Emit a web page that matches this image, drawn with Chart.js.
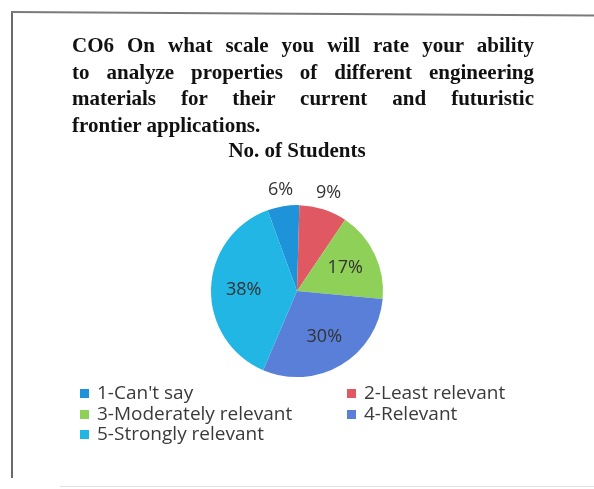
<!DOCTYPE html>
<html>
<head>
<meta charset="utf-8">
<script src="https://cdn.jsdelivr.net/npm/chart.js@4"></script>
<style>
  html, body { margin: 0; padding: 0; background: #fff; }
  #page { position: relative; width: 594px; height: 489px; overflow: hidden; background: #fff; }
  #frameLeft { position: absolute; left: 11px; top: 11px; width: 2px; height: 467px; background: #6a6a6a; }
  #frameTop { position: absolute; left: 11px; top: 11px; width: 600px; height: 2px; background: #7a7a7a; transform: rotate(0.35deg); transform-origin: 0 0; }
  #frameBottom { position: absolute; left: 60px; top: 486px; width: 540px; height: 1px; background: #e2e2e2; }
  #question { position: absolute; left: 72px; top: 32px; width: 462px; font-family: "Liberation Serif", "Times New Roman", serif; font-weight: bold; font-size: 21px; line-height: 26.5px; color: #111; z-index: 2; }
  #question .ln { text-align: justify; text-align-last: justify; white-space: nowrap; }
  #question .ln.last { text-align-last: left; }
  #chartBox { position: absolute; left: 0; top: 0; width: 594px; height: 489px; z-index: 1; }
</style>
</head>
<body>
<div id="page">
  <div id="frameLeft"></div>
  <div id="frameTop"></div>
  <div id="frameBottom"></div>
  <div id="question">
    <div class="ln">CO6 On what scale you will rate your ability</div>
    <div class="ln">to analyze properties of different engineering</div>
    <div class="ln">materials for their current and futuristic</div>
    <div class="ln last">frontier applications.</div>
  </div>
  <div id="chartBox"><canvas id="chart" width="594" height="489"></canvas></div>
</div>
<script>
// Survey responses for CO6 (share of students, %)
const categories = ["1-Can't say", "2-Least relevant", "3-Moderately relevant", "4-Relevant", "5-Strongly relevant"];
const studentShare = [6, 9, 17, 30, 38];
const sliceColors = ["#1f93d9", "#e05862", "#8fd158", "#5a7fd9", "#22b6e4"];
const chartTitle = "No. of Students";

// Percentage labels: small slices get their label outside the rim
const sliceLabels = {
  id: 'sliceLabels',
  afterDatasetsDraw(chart) {
    const ctx = chart.ctx;
    const meta = chart.getDatasetMeta(0);
    const values = chart.data.datasets[0].data;
    ctx.save();
    ctx.font = '18px "Open Sans", Lato, sans-serif';
    ctx.fillStyle = '#333';
    ctx.textAlign = 'center';
    ctx.textBaseline = 'middle';
    meta.data.forEach((arc, i) => {
      const p = arc.getProps(['x', 'y', 'startAngle', 'endAngle', 'outerRadius'], true);
      const mid = (p.startAngle + p.endAngle) / 2;
      const r = values[i] < 10 ? p.outerRadius + 17 : p.outerRadius * 0.62;
      ctx.fillText(values[i] + '%', p.x + Math.cos(mid) * r, p.y + Math.sin(mid) * r);
    });
    ctx.restore();
  }
};

// Two-column legend below the pie
const gridLegend = {
  id: 'gridLegend',
  afterDraw(chart) {
    const ctx = chart.ctx;
    const ds = chart.data.datasets[0];
    const colX = [80, 347];
    const rowY = [393, 414, 434];
    ctx.save();
    ctx.font = '19px "Open Sans", Lato, sans-serif';
    ctx.textBaseline = 'middle';
    ctx.textAlign = 'left';
    chart.data.labels.forEach((lab, i) => {
      const x = colX[i % 2];
      const y = rowY[Math.floor(i / 2)];
      ctx.fillStyle = ds.backgroundColor[i];
      ctx.fillRect(x, y - 4, 9, 9);
      ctx.fillStyle = '#3a3a3a';
      ctx.fillText(lab, x + 17, y + 1);
    });
    ctx.restore();
  }
};

new Chart(document.getElementById('chart'), {
  type: 'pie',
  data: {
    labels: categories,
    datasets: [{
      data: studentShare,
      backgroundColor: sliceColors,
      borderWidth: 0,
      hoverOffset: 0,
      radius: 86
    }]
  },
  options: {
    responsive: false,
    animation: false,
    rotation: -20,
    layout: { padding: { top: 0, bottom: 79, left: 0, right: 0 } },
    plugins: {
      legend: { display: false },
      tooltip: { enabled: false },
      title: {
        display: true,
        text: chartTitle,
        color: '#111',
        font: { family: '"Liberation Serif", "Times New Roman", serif', size: 21, weight: 'bold' },
        padding: { top: 139, bottom: 8 }
      }
    }
  },
  plugins: [sliceLabels, gridLegend]
});
</script>
</body>
</html>
